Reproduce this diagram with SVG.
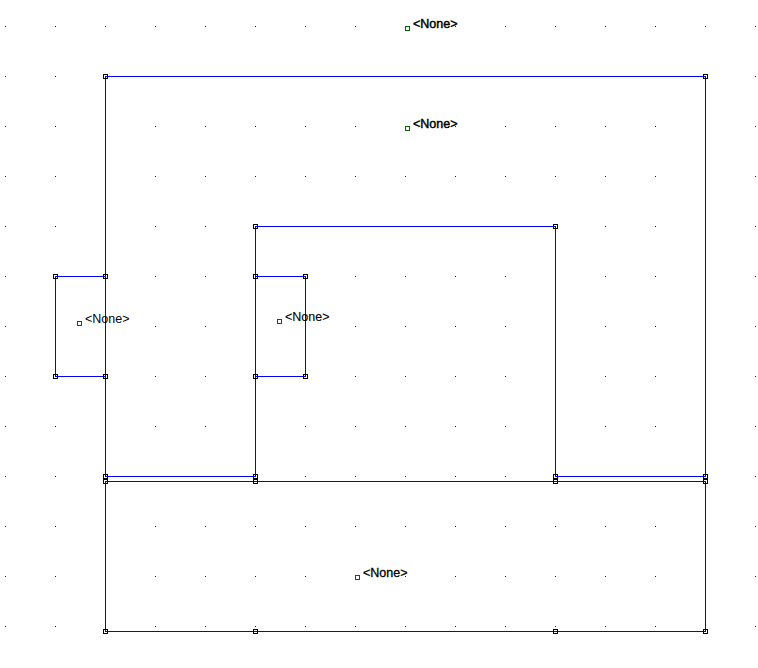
<svg xmlns="http://www.w3.org/2000/svg" width="758" height="668" viewBox="0 0 758 668">
<style>
.w{fill:none;stroke:#0000ff;stroke-width:1;shape-rendering:crispEdges}
.h{fill:none;stroke:#000;stroke-width:1;shape-rendering:crispEdges}
.g{fill:none;stroke:#006400;stroke-width:1;shape-rendering:crispEdges}
.t{font-family:"Liberation Sans",Arial,sans-serif;font-size:12.5px;fill:#000}
.b{stroke:#000;stroke-width:.45px}
.m{stroke:#000;stroke-width:.3px}
.s{stroke:#000;stroke-width:.12px}
</style>
<defs>
<pattern id="grid" x="0" y="0" width="50" height="50" patternUnits="userSpaceOnUse"><rect x="5" y="26" width="1" height="1" fill="#0000ff"/></pattern>
<rect id="hd" class="h" x="-2" y="-2" width="4" height="4"/>
<rect id="gd" class="g" x="-2" y="-2" width="4" height="4"/>
</defs>
<rect width="758" height="668" fill="#fff"/>
<rect id="grid-dots" width="758" height="668" fill="url(#grid)"/>
<g id="connectors">
<path class="w" d="M105.500 76.500H705.500V476.500M105.500 76.500V476.500M105.500 476.500H255.500M555.500 476.500H705.500"/>
<path class="w" d="M255.500 476.500V226.500H555.500V476.500"/>
<path class="w" d="M105.500 276.500H55.500V376.500H105.500"/>
<path class="w" d="M255.500 276.500H305.500V376.500H255.500"/>
<path class="w" d="M105.500 481.500H705.500V631.500H105.500Z"/>
</g>
<g id="node-top"><use href="#gd" x="407.500" y="28.500"/><text class="t b" x="413" y="28">&lt;None&gt;</text></g>
<g id="node-outer">
<use href="#gd" x="407.500" y="128.500"/><text class="t b" x="413" y="128">&lt;None&gt;</text>
<use href="#hd" x="105.500" y="76.500"/><use href="#hd" x="705.500" y="76.500"/><use href="#hd" x="105.500" y="476.500"/><use href="#hd" x="255.500" y="476.500"/><use href="#hd" x="555.500" y="476.500"/><use href="#hd" x="705.500" y="476.500"/>
<use href="#hd" x="255.500" y="226.500"/><use href="#hd" x="555.500" y="226.500"/>
</g>
<g id="node-left">
<use href="#gd" x="79.500" y="323.500"/><text class="t" x="85" y="323">&lt;None&gt;</text>
<use href="#hd" x="55.500" y="276.500"/><use href="#hd" x="105.500" y="276.500"/><use href="#hd" x="55.500" y="376.500"/><use href="#hd" x="105.500" y="376.500"/>
</g>
<g id="node-inner">
<use href="#gd" x="279.500" y="321.500"/><text class="t s" x="285" y="321">&lt;None&gt;</text>
<use href="#hd" x="255.500" y="276.500"/><use href="#hd" x="305.500" y="276.500"/><use href="#hd" x="255.500" y="376.500"/><use href="#hd" x="305.500" y="376.500"/>
</g>
<g id="node-bottom">
<use href="#gd" x="357.500" y="577.500"/><text class="t m" x="363" y="577">&lt;None&gt;</text>
<use href="#hd" x="105.500" y="481.500"/><use href="#hd" x="255.500" y="481.500"/><use href="#hd" x="555.500" y="481.500"/><use href="#hd" x="705.500" y="481.500"/>
<use href="#hd" x="105.500" y="631.500"/><use href="#hd" x="255.500" y="631.500"/><use href="#hd" x="555.500" y="631.500"/><use href="#hd" x="705.500" y="631.500"/>
</g>
</svg>
